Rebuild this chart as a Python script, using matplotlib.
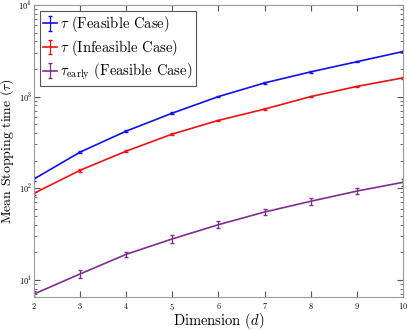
import matplotlib.pyplot as plt
import numpy as np

plt.rcParams['font.family'] = 'serif'
plt.rcParams['font.serif'] = ['cmr10']
plt.rcParams['mathtext.fontset'] = 'cm'
plt.rcParams['axes.formatter.use_mathtext'] = True

dims = np.array([2, 3, 4, 5, 6, 7, 8, 9, 10])
tau_feas = np.array([126, 248, 420, 660, 1000, 1410, 1860, 2400, 3100])
tau_feas_err = np.array([5, 8, 12, 15, 20, 25, 30, 35, 40])
tau_infeas = np.array([88, 157, 254, 390, 550, 730, 1000, 1290, 1600])
tau_infeas_err = np.array([3, 5, 8, 10, 12, 15, 18, 20, 25])
tau_early = np.array([7.0, 11.6, 19, 28, 40, 55, 72, 93, 116])
tau_early_err = np.array([0.5, 1.1, 1.3, 2.5, 3.5, 4.5, 7, 7, 9])

fig = plt.figure(figsize=(4.07, 3.30), dpi=100)
ax = fig.add_axes([0.0835, 0.1, 0.9065, 0.885])

ax.errorbar(dims, tau_feas, yerr=tau_feas_err, color='#1010ee', lw=1.2,
            capsize=1.5, elinewidth=0.9, label=r'$\tau$ (Feasible Case)')
ax.errorbar(dims, tau_infeas, yerr=tau_infeas_err, color='#ee1111', lw=1.2,
            capsize=1.5, elinewidth=0.9, label=r'$\tau$ (Infeasible Case)')
ax.errorbar(dims, tau_early, yerr=tau_early_err, color='#7e2f8e', lw=1.2,
            capsize=1.5, elinewidth=0.9, label=r'$\tau_{\mathrm{early}}$ (Feasible Case)')

ax.set_yscale('log')
ax.set_xlim(2, 10)
ax.set_ylim(6.5, 1e4)
ax.set_xticks(dims)
ax.tick_params(which='both', direction='in', top=True, right=True,
               labelsize=6, color='#555555')
ax.tick_params(axis='x', pad=3)
ax.tick_params(axis='y', pad=1.5)
ax.tick_params(which='major', length=4)
ax.tick_params(which='minor', length=2)
for s in ax.spines.values():
    s.set_color('#999999')

ax.set_xlabel(r'Dimension ($d$)', fontsize=10.5)
ax.set_ylabel(r'Mean Stopping time ($\tau$)', fontsize=10)
ax.xaxis.set_label_coords(0.5, -0.048)
ax.yaxis.set_label_coords(-0.048, 0.5)
leg = ax.legend(loc='upper left', fontsize=10.5, handlelength=0.9,
                handletextpad=0.2, borderpad=0.25, labelspacing=0.25,
                borderaxespad=0.4, fancybox=False, edgecolor='#555555',
                framealpha=1)
leg.get_frame().set_linewidth(0.8)

fig.savefig('out.png', dpi=100)
